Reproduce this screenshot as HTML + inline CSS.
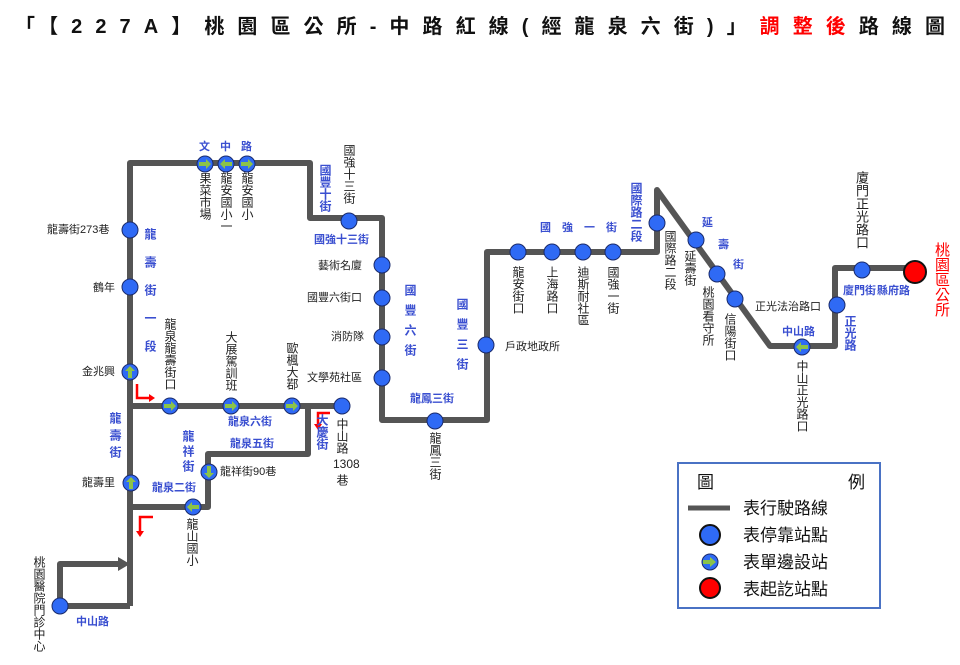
<!DOCTYPE html>
<html><head><meta charset="utf-8">
<style>
body{margin:0;background:#fff;}
#w{position:relative;width:960px;height:665px;overflow:hidden;font-family:"Liberation Sans","Noto Sans CJK TC",sans-serif;}
svg{position:absolute;left:0;top:0;}
.t{position:absolute;font-size:11px;line-height:12px;color:#222;white-space:nowrap;}
.v{position:absolute;writing-mode:vertical-rl;text-orientation:upright;font-size:12px;line-height:12px;color:#222;white-space:nowrap;}
.b{color:#3a4fd0;font-weight:bold;}
</style></head><body><div id="w">
<svg width="960" height="665" viewBox="0 0 960 665">
<defs>
<g id="s"><circle r="8" fill="#2f6af5" stroke="#1a2a6a" stroke-width="1"/></g>
<g id="a"><circle r="8" fill="#2f6af5" stroke="#1a2a6a" stroke-width="1"/><polygon points="-6,-2 1,-2 1,-5 6,0 1,5 1,2 -6,2" fill="#8bc34a"/></g>
</defs>
<g fill="none" stroke="#555" stroke-width="6" stroke-linejoin="round">
<polyline points="130,606 130,163 310,163 310,218 382,218 382,420 487,420 487,252 657,252 657,190 770,346 835,346 835,268 912,268"/>
<polyline points="130,406 342,406"/>
<polyline points="308,406 308,454 208,454 208,507 130,507"/>
<polyline points="60,606 130,606"/>
<polyline points="60,606 60,564 120,564"/>
</g>
<polygon points="118,557 130,564 118,571" fill="#555"/>
<g fill="none" stroke="#f00" stroke-width="2.5">
<polyline points="137,384 137,398 150,398"/><polyline points="153,517 140,517 140,532"/><polyline points="330,413 318,413 318,425"/>
</g>
<g fill="#f00"><polygon points="149,394 155,398 149,402"/><polygon points="136,531 140,537 144,531"/><polygon points="314,424 318,430 322,424"/></g>
<use href="#a" x="205" y="164"/>
<use href="#a" transform="translate(226,164) rotate(180)"/>
<use href="#a" x="247" y="164"/>
<use href="#s" x="349" y="221"/>
<use href="#s" x="130" y="230"/><use href="#s" x="130" y="287"/>
<use href="#a" transform="translate(130,372) rotate(-90)"/>
<use href="#a" x="170" y="406"/><use href="#a" x="231" y="406"/><use href="#a" x="292" y="406"/>
<use href="#s" x="342" y="406"/>
<use href="#s" x="382" y="265"/><use href="#s" x="382" y="298"/><use href="#s" x="382" y="337"/><use href="#s" x="382" y="378"/>
<use href="#a" transform="translate(209,472) rotate(90)"/>
<use href="#a" transform="translate(131,483) rotate(-90)"/>
<use href="#a" transform="translate(193,507) rotate(180)"/>
<use href="#s" x="60" y="606"/>
<use href="#s" x="435" y="421"/><use href="#s" x="486" y="345"/>
<use href="#s" x="518" y="252"/><use href="#s" x="552" y="252"/><use href="#s" x="583" y="252"/><use href="#s" x="613" y="252"/>
<use href="#s" x="657" y="223"/><use href="#s" x="696" y="240"/><use href="#s" x="717" y="274"/><use href="#s" x="735" y="299"/>
<use href="#a" transform="translate(802,347) rotate(180)"/>
<use href="#s" x="837" y="305"/><use href="#s" x="862" y="270"/>
<circle cx="915" cy="272" r="11" fill="#f00" stroke="#111" stroke-width="2"/>
<rect x="678" y="463" width="202" height="145" fill="none" stroke="#4a72c4" stroke-width="2"/>
<line x1="688" y1="508" x2="730" y2="508" stroke="#555" stroke-width="5"/>
<circle cx="710" cy="535" r="10" fill="#2f6af5" stroke="#111" stroke-width="2"/>
<circle cx="710" cy="562" r="8" fill="#2f6af5" stroke="#1a2a6a" stroke-width="1"/>
<polygon points="703,560 710,560 710,557 716,562 710,567 710,564 703,564" fill="#8bc34a"/>
<circle cx="710" cy="588" r="10" fill="#f00" stroke="#111" stroke-width="2"/>
<text x="15" y="33" font-size="20" font-weight="bold" textLength="930" lengthAdjust="spacing" font-family="Liberation Sans,Noto Sans CJK TC,sans-serif" fill="#111">「【227A】桃園區公所-中路紅線(經龍泉六街)」<tspan fill="#f00">調整後</tspan>路線圖</text>
<g font-family="Liberation Sans,Noto Sans CJK TC,sans-serif" font-size="17" fill="#111">
<text x="697" y="488">圖</text><text x="848" y="488">例</text>
<text x="743" y="514">表行駛路線</text><text x="743" y="541">表停靠站點</text><text x="743" y="568">表單邊設站</text><text x="743" y="595">表起訖站點</text>
</g>
</svg>
<div class="t b" style="left:199px;top:141px">文</div><div class="t b" style="left:220px;top:141px">中</div><div class="t b" style="left:241px;top:141px">路</div>
<div class="v" style="left:199px;top:172px">果菜市場</div>
<div class="v" style="left:220px;top:172px">龍安國小一</div>
<div class="v" style="left:241px;top:172px">龍安國小</div>
<div class="v b" style="left:319px;top:164px">國豐十街</div>
<div class="v" style="left:343px;top:144px">國強十三街</div>
<div class="t b" style="left:314px;top:234px">國強十三街</div>
<div class="t" style="left:318px;top:260px">藝術名廈</div>
<div class="t" style="left:307px;top:292px">國豐六街口</div>
<div class="t" style="left:331px;top:331px">消防隊</div>
<div class="t" style="left:307px;top:372px">文學苑社區</div>
<div class="v b" style="left:404px;top:284px;letter-spacing:8px">國豐六街</div>
<div class="t" style="left:47px;top:224px">龍壽街273巷</div>
<div class="t" style="left:93px;top:282px">鶴年</div>
<div class="t" style="left:82px;top:366px">金兆興</div>
<div class="v b" style="left:144px;top:228px;letter-spacing:16px">龍壽街一段</div>
<div class="v" style="left:164px;top:318px">龍泉龍壽街口</div>
<div class="v" style="left:225px;top:331px">大展駕訓班</div>
<div class="v" style="left:286px;top:342px">歐楓大鄀</div>
<div class="v" style="left:336px;top:418px">中山路</div>
<div class="t" style="left:333px;top:458px;font-size:12px">1308</div>
<div class="v" style="left:336px;top:474px">巷</div>
<div class="v b" style="left:316px;top:414px">大慶街</div>
<div class="t b" style="left:228px;top:416px">龍泉六街</div>
<div class="t b" style="left:230px;top:438px">龍泉五街</div>
<div class="v b" style="left:182px;top:430px;letter-spacing:3px">龍祥街</div>
<div class="t" style="left:220px;top:466px">龍祥街90巷</div>
<div class="t b" style="left:152px;top:482px">龍泉二街</div>
<div class="v" style="left:186px;top:518px">龍山國小</div>
<div class="v b" style="left:109px;top:412px;letter-spacing:5px">龍壽街</div>
<div class="t" style="left:82px;top:477px">龍壽里</div>
<div class="v" style="left:33px;top:556px">桃園醫院門診中心</div>
<div class="t b" style="left:76px;top:616px">中山路</div>
<div class="t b" style="left:410px;top:393px">龍鳳三街</div>
<div class="v" style="left:429px;top:432px">龍鳳三街</div>
<div class="v b" style="left:456px;top:298px;letter-spacing:8px">國豐三街</div>
<div class="t" style="left:505px;top:341px">戶政地政所</div>
<div class="t b" style="left:540px;top:222px;letter-spacing:11px">國強一街</div>
<div class="v" style="left:512px;top:266px">龍安街口</div>
<div class="v" style="left:546px;top:266px">上海路口</div>
<div class="v" style="left:577px;top:266px">迪斯耐社區</div>
<div class="v" style="left:607px;top:266px">國強一街</div>
<div class="v b" style="left:630px;top:182px">國際路二段</div>
<div class="v" style="left:664px;top:230px">國際路二段</div>
<div class="t b" style="left:702px;top:217px">延</div><div class="t b" style="left:718px;top:239px">壽</div><div class="t b" style="left:733px;top:259px">街</div>
<div class="v" style="left:684px;top:250px">延壽街</div>
<div class="v" style="left:702px;top:286px">桃園看守所</div>
<div class="v" style="left:724px;top:313px">信陽街口</div>
<div class="t b" style="left:782px;top:326px">中山路</div>
<div class="v" style="left:796px;top:360px">中山正光路口</div>
<div class="t" style="left:755px;top:301px">正光法治路口</div>
<div class="v b" style="left:844px;top:315px">正光路</div>
<div class="t b" style="left:843px;top:285px">廈門街</div>
<div class="t b" style="left:877px;top:285px">縣府路</div>
<div class="v" style="left:855px;top:171px;font-size:13px;line-height:13px">廈門正光路口</div>
<div class="v" style="left:934px;top:242px;font-size:15px;line-height:15px;color:#f00">桃園區公所</div>
</div></body></html>
